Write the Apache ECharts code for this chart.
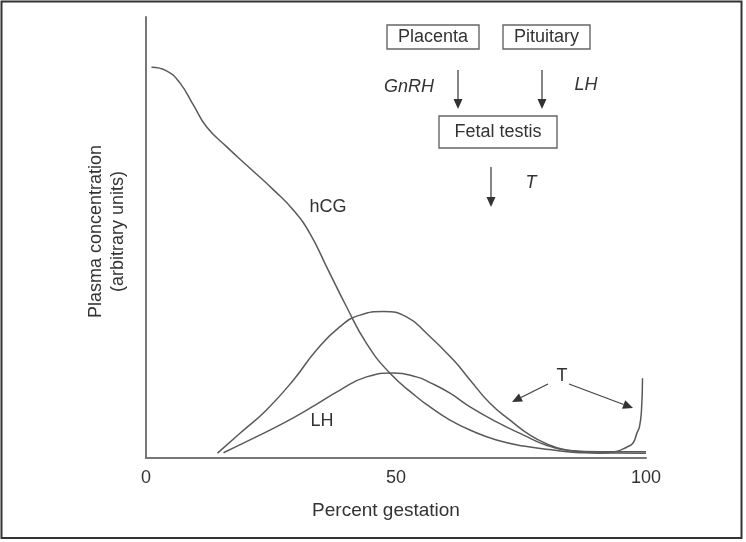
<!DOCTYPE html>
<html>
<head>
<meta charset="utf-8">
<script src="https://cdn.jsdelivr.net/npm/echarts@6/dist/echarts.min.js"></script>
<style>
html,body{margin:0;padding:0;background:#fff;}
#chart{width:746px;height:542px;}
</style>
</head>
<body>
<div id="chart"></div>
<script>
// Percent gestation (x) and plasma concentration in arbitrary units (y)
const hcgX = [1.1, 4.1, 6.8, 9.5, 12.1, 16.1, 20.8, 25.5, 29.5, 32.8, 36.1, 40.1, 44.1, 48.8, 54.1, 56.8, 60.8, 65.5, 70.1, 75.5, 82.1, 86.8, 100];
const hcgY = [88.6, 87.8, 85.0, 80.0, 75.1, 70.6, 65.7, 60.8, 56.2, 50.9, 43.4, 34.3, 26.0, 19.2, 13.9, 11.6, 8.6, 6.0, 4.1, 2.7, 1.7, 1.2, 1.1];

const tX = [14.3, 18.8, 24.1, 29.5, 34.1, 38.8, 42.8, 47.5, 52.1, 56.1, 61.5, 64.8, 68.8, 72.8, 76.8, 80.8, 83.4, 86.8, 90.8, 93.8, 96.2, 97.4, 98.2, 98.7, 99.1, 99.3];
const tY = [1.1, 5.6, 10.9, 17.7, 24.5, 29.8, 32.4, 33.2, 32.0, 28.3, 22.2, 17.7, 12.4, 8.6, 5.2, 2.9, 2.0, 1.4, 1.1, 1.4, 2.5, 3.4, 5.7, 7.1, 10.9, 18.1];

const lhX = [15.5, 20.8, 27.5, 32.8, 38.8, 44.1, 49.5, 54.1, 56.8, 60.8, 64.8, 70.1, 75.5, 80.1, 84.8, 90.8, 100];
const lhY = [1.2, 4.1, 7.9, 11.3, 15.4, 18.4, 19.3, 18.4, 17.1, 14.7, 11.6, 8.2, 5.2, 2.9, 1.7, 1.4, 1.4];

const xTicks = [0, 50, 100];
const xTitle = 'Percent gestation';
const yTitle = 'Plasma concentration\n(arbitrary units)';

const pairs = (xs, ys) => xs.map((x, i) => [x, ys[i]]);

const FONT = 'Liberation Sans';
const TXT = '#333';
const LINE = '#5a5a5a';

function arrow(x1, y1, x2, y2, len, half) {
  const dx = x2 - x1, dy = y2 - y1;
  const d = Math.sqrt(dx * dx + dy * dy);
  const ux = dx / d, uy = dy / d;
  const bx = x2 - ux * len, by = y2 - uy * len;
  const px = -uy * half, py = ux * half;
  return [
    { type: 'line', shape: { x1: x1, y1: y1, x2: bx, y2: by }, style: { stroke: '#444', lineWidth: 1.3 } },
    { type: 'polygon', shape: { points: [[x2, y2], [bx + px, by + py], [bx - px, by - py]] }, style: { fill: '#333' } }
  ];
}

function box(x, y, w, h, label) {
  return [
    { type: 'rect', shape: { x: x, y: y, width: w, height: h }, style: { fill: 'none', stroke: '#666', lineWidth: 1.4 } },
    { type: 'text', x: x + w / 2, y: y + h / 2, style: { text: label, font: '18px "' + FONT + '"', fill: TXT, align: 'center', verticalAlign: 'middle' } }
  ];
}

function label(x, y, t, italic) {
  return { type: 'text', x: x, y: y, style: { text: t, font: (italic ? 'italic ' : '') + '18px "' + FONT + '"', fill: TXT, align: 'center', verticalAlign: 'middle' } };
}

const graphics = [
  { type: 'rect', shape: { x: 1.5, y: 1.5, width: 740, height: 536.5 }, style: { fill: 'none', stroke: '#333', lineWidth: 2 } },
  ...box(387, 25, 92, 24, 'Placenta'),
  ...box(503, 25, 87, 24, 'Pituitary'),
  ...box(439, 116, 118, 32, 'Fetal testis'),
  ...arrow(458, 70, 458, 109, 10, 4.5),
  ...arrow(542, 70, 542, 109, 10, 4.5),
  ...arrow(491, 167, 491, 207, 10, 4.5),
  label(409, 87, 'GnRH', true),
  label(586, 85, 'LH', true),
  label(531, 183, 'T', true),
  label(328, 207, 'hCG', false),
  label(322, 421, 'LH', false),
  label(562, 376, 'T', false),
  ...arrow(548, 384, 512, 402, 10, 4.5),
  ...arrow(569, 384, 633, 408, 10, 4.5)
];

const chart = echarts.init(document.getElementById('chart'), null, { renderer: 'canvas' });
const lineSeries = (name, data) => ({
  name: name, type: 'line', data: data, smooth: 0.5,
  symbol: 'none', lineStyle: { color: LINE, width: 1.5 }, z: 3, silent: true
});

chart.setOption({
  backgroundColor: '#fff',
  animation: false,
  textStyle: { fontFamily: FONT },
  grid: { left: 146, right: 100, top: 17, bottom: 84, containLabel: false },
  xAxis: {
    type: 'value', min: 0, max: 100, interval: 50,
    axisLine: { show: true, onZero: false, lineStyle: { color: '#777', width: 2 } },
    axisTick: { show: false },
    splitLine: { show: false },
    axisLabel: {
      fontSize: 18, color: TXT, margin: 11, fontFamily: FONT,
      formatter: v => (xTicks.indexOf(v) >= 0 ? String(v) : '')
    },
    name: xTitle, nameLocation: 'middle', nameGap: 43,
    nameTextStyle: { fontSize: 19, color: TXT, fontFamily: FONT, padding: [0, 20, 0, 0] }
  },
  yAxis: {
    type: 'value', min: 0, max: 100,
    axisLine: { show: true, lineStyle: { color: '#777', width: 2 } },
    axisTick: { show: false },
    axisLabel: { show: false },
    splitLine: { show: false },
    name: yTitle, nameLocation: 'middle', nameRotate: 90, nameGap: 17,
    nameTextStyle: { fontSize: 18, lineHeight: 22, color: TXT, fontFamily: FONT, padding: [0, 0, 0, 12] }
  },
  series: [
    lineSeries('hCG', pairs(hcgX, hcgY)),
    lineSeries('T', pairs(tX, tY)),
    lineSeries('LH', pairs(lhX, lhY))
  ],
  graphic: graphics
});
</script>
</body>
</html>
